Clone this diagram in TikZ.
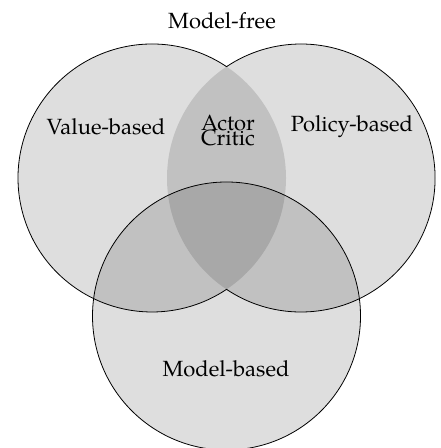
\documentclass[tikz,border=0pt]{standalone}
\usepackage{fontspec}
\setmainfont{TeX Gyre Pagella}
\usepackage{tikz}
\usepackage{xcolor}

\begin{document}
\begin{tikzpicture}[x=5pt,y=5pt,
  setfill/.style={fill=black, fill opacity=0.13},
  setline/.style={draw=black, line width=0.4pt},
  setlabel/.style={font=\fontsize{11}{13}\selectfont}]
\useasboundingbox (0,0) rectangle (44,44.8);

% Circle centres
\coordinate (vb) at (15.2,27.0);
\coordinate (pb) at (30.1,27.0);
\coordinate (mb) at (22.65,13.2);

% Shaded sets
\fill[setfill] (vb) circle (13.4);
\fill[setfill] (pb) circle (13.4);
\fill[setfill] (mb) circle (13.4);

% Outlines (no lens edges between the two model-free sets)
\draw[setline] (vb) ++(56.2:13.4) arc[start angle=56.2, end angle=303.8, radius=13.4]
  arc[start angle=236.2, end angle=483.8, radius=13.4] -- cycle;
\draw[setline] (mb) circle (13.4);

% Labels
\node[setlabel] (free) at (22.2,42.7) {Model-free};
\node[setlabel] (value) at (10.6,32.1) {Value-based};
\node[setlabel, align=center] (ac) at (22.8,31.7) {Actor\\[-5.5pt]Critic};
\node[setlabel] (policy) at (35.2,32.1) {Policy-based};
\node[setlabel] (model) at (22.6,7.9) {Model-based};
\end{tikzpicture}
\end{document}
